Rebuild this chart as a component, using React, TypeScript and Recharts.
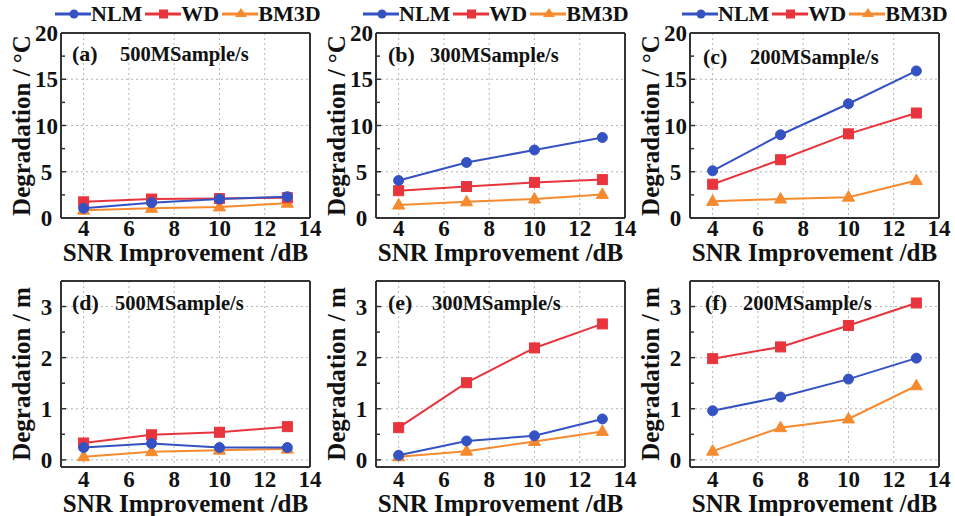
import React from 'react';
import { LineChart, Line, XAxis, YAxis, CartesianGrid, Legend } from 'recharts';

// ---------- data ----------
const snrImprovement = [4, 7, 10, 13];
const xTickLabels = [4, 6, 8, 10, 12, 14];
const xMajorInner = [4, 6, 8, 10, 12];
const xMinorInner = [5, 7, 9, 11, 13];

const tempTicks = [0, 5, 10, 15, 20];
const tempMajorInner = [5, 10, 15];
const tempMinorInner = [2.5, 7.5, 12.5, 17.5];
const distTicks = [0, 1, 2, 3];
const distMajorInner = [0, 1, 2, 3];
const distMinorInner = [0.5, 1.5, 2.5];

const tempNlm500 = [1.05, 1.65, 2.05, 2.3];
const tempWd500 = [1.75, 2.05, 2.1, 2.2];
const tempBm3d500 = [0.85, 1.05, 1.2, 1.6];
const tempNlm300 = [4.05, 6.0, 7.35, 8.7];
const tempWd300 = [2.95, 3.4, 3.85, 4.15];
const tempBm3d300 = [1.4, 1.75, 2.05, 2.55];
const tempNlm200 = [5.1, 9.0, 12.35, 15.9];
const tempWd200 = [3.65, 6.3, 9.1, 11.35];
const tempBm3d200 = [1.8, 2.05, 2.25, 4.05];

const distNlm500 = [0.24, 0.32, 0.24, 0.24];
const distWd500 = [0.33, 0.49, 0.54, 0.65];
const distBm3d500 = [0.06, 0.16, 0.19, 0.21];
const distNlm300 = [0.09, 0.37, 0.47, 0.8];
const distWd300 = [0.63, 1.51, 2.19, 2.66];
const distBm3d300 = [0.06, 0.17, 0.36, 0.555];
const distNlm200 = [0.96, 1.23, 1.58, 1.99];
const distWd200 = [1.98, 2.21, 2.63, 3.07];
const distBm3d200 = [0.17, 0.63, 0.8, 1.45];

const seriesNames = ['NLM', 'WD', 'BM3D'];
const panelTags = ['(a)', '(b)', '(c)', '(d)', '(e)', '(f)'];
const rateLabels = ['500MSample/s', '300MSample/s', '200MSample/s'];
const xTitle = 'SNR Improvement /dB';
const tempTitle = 'Degradation / °C';
const distTitle = 'Degradation / m';

// ---------- styles ----------
const FONT = "'Liberation Serif', 'Times New Roman', serif";
const BLUE = '#3552c2';
const RED = '#e8353d';
const ORANGE = '#f58a2f';
const FRAME = '#333333';
const GRID = '#b4b4b4';

const circleDot = (props: any) => {
  const { cx, cy, index } = props;
  if (cx == null || cy == null) return <g key={`c-${index}`} />;
  return <circle key={`c-${index}`} cx={cx} cy={cy} r={5} fill={BLUE} stroke={BLUE} strokeWidth={1} />;
};
const squareDot = (props: any) => {
  const { cx, cy, index } = props;
  if (cx == null || cy == null) return <g key={`s-${index}`} />;
  return <rect key={`s-${index}`} x={cx - 5} y={cy - 5} width={10} height={10} fill={RED} stroke={RED} strokeWidth={1} />;
};
const triangleDot = (props: any) => {
  const { cx, cy, index } = props;
  if (cx == null || cy == null) return <g key={`t-${index}`} />;
  const pts = `${cx},${cy - 6.5} ${cx + 6},${cy + 4} ${cx - 6},${cy + 4}`;
  return <polygon key={`t-${index}`} points={pts} fill={ORANGE} stroke={ORANGE} strokeWidth={1} />;
};

const EmptyTick = () => <g />;

const legendColors = [BLUE, RED, ORANGE];

const LegendMarker = ({ i }: { i: number }) => {
  const c = legendColors[i];
  if (i === 0) return <circle cx={19} cy={9} r={4.5} fill={c} />;
  if (i === 1) return <rect x={14} y={4.5} width={9} height={9} fill={c} />;
  return <polygon points="19,3 25,12 13,12" fill={c} />;
};

const LegendContent = () => (
  <div
    style={{
      display: 'flex',
      alignItems: 'center',
      fontFamily: FONT,
      fontWeight: 700,
      fontSize: 22,
      color: '#111',
      whiteSpace: 'nowrap',
    }}
  >
    {seriesNames.map((name, i) => (
      <div key={name} style={{ display: 'flex', alignItems: 'center', marginRight: 3 }}>
        <svg width={36} height={18} style={{ display: 'block' }}>
          <line x1={0} y1={9} x2={36} y2={9} stroke={legendColors[i]} strokeWidth={3} />
          <LegendMarker i={i} />
        </svg>
        <span style={{ lineHeight: '24px' }}>{name}</span>
      </div>
    ))}
  </div>
);

type PanelProps = {
  left: number;
  top: number;
  width: number;
  height: number;
  marginTop: number;
  marginRight: number;
  xAxisHeight: number;
  xTickMargin: number;
  xTitleOffset: number;
  yDomain: [number, number];
  yTicks: number[];
  yMajor: number[];
  yMinor: number[];
  yTitle: string;
  nlm: number[];
  wd: number[];
  bm3d: number[];
  legendLeft?: number;
};

const tickFont = { fill: '#111', fontSize: 23, fontWeight: 700, fontFamily: FONT };

function Panel(p: PanelProps) {
  const data = snrImprovement.map((x, i) => ({ snr: x, nlm: p.nlm[i], wd: p.wd[i], bm3d: p.bm3d[i] }));
  return (
    <div style={{ position: 'absolute', left: p.left, top: p.top }}>
      <LineChart
        width={p.width}
        height={p.height}
        data={data}
        margin={{ top: p.marginTop, right: p.marginRight, bottom: 0, left: 0 }}
      >
        <CartesianGrid xAxisId="x" yAxisId="y" stroke={GRID} strokeDasharray="2 3" strokeWidth={1} />
        <XAxis
          xAxisId="x"
          dataKey="snr"
          type="number"
          domain={[3, 14]}
          allowDataOverflow
          ticks={xTickLabels}
          interval={0}
          height={p.xAxisHeight}
          tickSize={0}
          tickMargin={p.xTickMargin}
          tickLine={false}
          axisLine={{ stroke: FRAME, strokeWidth: 2 }}
          tick={tickFont}
          label={{
            value: xTitle,
            position: 'insideBottom',
            offset: p.xTitleOffset,
            style: { fill: '#111', fontSize: 25, fontWeight: 700, fontFamily: FONT, textAnchor: 'middle' },
          }}
        />
        <XAxis
          xAxisId="xmaj"
          type="number"
          domain={[3, 14]}
          allowDataOverflow
          ticks={xMajorInner}
          interval={0}
          mirror
          height={1}
          tickSize={5}
          axisLine={false}
          tickLine={{ stroke: FRAME, strokeWidth: 1.5 }}
          tick={EmptyTick}
        />
        <XAxis
          xAxisId="xmin"
          type="number"
          domain={[3, 14]}
          allowDataOverflow
          ticks={xMinorInner}
          interval={0}
          mirror
          height={1}
          tickSize={3}
          axisLine={false}
          tickLine={{ stroke: FRAME, strokeWidth: 1.5 }}
          tick={EmptyTick}
        />
        <XAxis
          xAxisId="xtop"
          orientation="top"
          type="number"
          domain={[3, 14]}
          allowDataOverflow
          ticks={[3]}
          mirror
          height={1}
          tick={false}
          tickLine={false}
          axisLine={{ stroke: FRAME, strokeWidth: 2 }}
        />
        <YAxis
          yAxisId="y"
          type="number"
          domain={p.yDomain}
          allowDataOverflow
          ticks={p.yTicks}
          interval={0}
          width={61}
          tickSize={0}
          tickMargin={14.5}
          tickLine={false}
          axisLine={{ stroke: FRAME, strokeWidth: 2 }}
          tick={{ ...tickFont, textAnchor: 'middle' }}
          label={{
            value: p.yTitle,
            angle: -90,
            position: 'insideLeft',
            offset: 21,
            style: { fill: '#111', fontSize: 25, fontWeight: 700, fontFamily: FONT, textAnchor: 'middle' },
          }}
        />
        <YAxis
          yAxisId="ymaj"
          type="number"
          domain={p.yDomain}
          allowDataOverflow
          ticks={p.yMajor}
          interval={0}
          mirror
          width={1}
          tickSize={5}
          axisLine={false}
          tickLine={{ stroke: FRAME, strokeWidth: 1.5 }}
          tick={EmptyTick}
        />
        <YAxis
          yAxisId="ymin"
          type="number"
          domain={p.yDomain}
          allowDataOverflow
          ticks={p.yMinor}
          interval={0}
          mirror
          width={1}
          tickSize={3}
          axisLine={false}
          tickLine={{ stroke: FRAME, strokeWidth: 1.5 }}
          tick={EmptyTick}
        />
        <YAxis
          yAxisId="yright"
          orientation="right"
          type="number"
          domain={p.yDomain}
          allowDataOverflow
          ticks={[p.yDomain[0]]}
          mirror
          width={1}
          tick={false}
          tickLine={false}
          axisLine={{ stroke: FRAME, strokeWidth: 2 }}
        />
        {p.legendLeft != null && (
          <Legend
            layout="horizontal"
            verticalAlign="middle"
            align="center"
            wrapperStyle={{ top: 2, left: p.legendLeft, width: 300, height: 24 }}
            content={() => <LegendContent />}
          />
        )}
        <Line
          xAxisId="x"
          yAxisId="y"
          type="linear"
          dataKey="bm3d"
          name="BM3D"
          stroke={ORANGE}
          strokeWidth={2}
          dot={triangleDot}
          isAnimationActive={false}
        />
        <Line
          xAxisId="x"
          yAxisId="y"
          type="linear"
          dataKey="wd"
          name="WD"
          stroke={RED}
          strokeWidth={2}
          dot={squareDot}
          isAnimationActive={false}
        />
        <Line
          xAxisId="x"
          yAxisId="y"
          type="linear"
          dataKey="nlm"
          name="NLM"
          stroke={BLUE}
          strokeWidth={2}
          dot={circleDot}
          isAnimationActive={false}
        />
      </LineChart>
    </div>
  );
}

const Annot = ({ tag, rate, tagX, rateX, cy }: { tag: string; rate: string; tagX: number; rateX: number; cy: number }) => (
  <>
    <div
      style={{
        position: 'absolute',
        left: tagX,
        top: cy - 13,
        lineHeight: '26px',
        fontFamily: FONT,
        fontWeight: 700,
        fontSize: 22,
        color: '#111',
        whiteSpace: 'nowrap',
      }}
    >
      {tag}
    </div>
    <div
      style={{
        position: 'absolute',
        left: rateX,
        top: cy - 12,
        lineHeight: '24px',
        fontFamily: FONT,
        fontWeight: 700,
        fontSize: 20.5,
        color: '#111',
        whiteSpace: 'nowrap',
      }}
    >
      {rate}
    </div>
  </>
);

const colLefts = [0, 315, 629];
const colWidths = [335, 335, 326];
const colRights = [25, 25, 16];
const legendLefts = [55, 48, 53];

const topSeries = [
  [tempNlm500, tempWd500, tempBm3d500],
  [tempNlm300, tempWd300, tempBm3d300],
  [tempNlm200, tempWd200, tempBm3d200],
];
const bottomSeries = [
  [distNlm500, distWd500, distBm3d500],
  [distNlm300, distWd300, distBm3d300],
  [distNlm200, distWd200, distBm3d200],
];

const annotTop = [
  { tagX: 72, rateX: 120, cy: 54 },
  { tagX: 388, rateX: 430, cy: 55 },
  { tagX: 703, rateX: 750, cy: 57 },
];
const annotBottom = [
  { tagX: 72, rateX: 115, cy: 303 },
  { tagX: 388, rateX: 432, cy: 303 },
  { tagX: 705, rateX: 743, cy: 303 },
];

export default function App() {
  return (
    <div style={{ position: 'absolute', left: 0, top: 0, width: 955, height: 516, background: '#fff', overflow: 'hidden' }}>
      {colLefts.map((l, i) => (
        <Panel
          key={`t${i}`}
          left={l}
          top={0}
          width={colWidths[i]}
          height={274}
          marginTop={33}
          marginRight={colRights[i]}
          xAxisHeight={56}
          xTickMargin={2}
          xTitleOffset={13}
          yDomain={[0, 20]}
          yTicks={tempTicks}
          yMajor={tempMajorInner}
          yMinor={tempMinorInner}
          yTitle={tempTitle}
          nlm={topSeries[i][0]}
          wd={topSeries[i][1]}
          bm3d={topSeries[i][2]}
          legendLeft={legendLefts[i]}
        />
      ))}
      {colLefts.map((l, i) => (
        <Panel
          key={`b${i}`}
          left={l}
          top={260}
          width={colWidths[i]}
          height={256}
          marginTop={21}
          marginRight={colRights[i]}
          xAxisHeight={49}
          xTickMargin={4}
          xTitleOffset={4}
          yDomain={[-0.14, 3.5]}
          yTicks={distTicks}
          yMajor={distMajorInner}
          yMinor={distMinorInner}
          yTitle={distTitle}
          nlm={bottomSeries[i][0]}
          wd={bottomSeries[i][1]}
          bm3d={bottomSeries[i][2]}
        />
      ))}
      {annotTop.map((a, i) => (
        <Annot key={`at${i}`} tag={panelTags[i]} rate={rateLabels[i]} tagX={a.tagX} rateX={a.rateX} cy={a.cy} />
      ))}
      {annotBottom.map((a, i) => (
        <Annot key={`ab${i}`} tag={panelTags[i + 3]} rate={rateLabels[i]} tagX={a.tagX} rateX={a.rateX} cy={a.cy} />
      ))}
    </div>
  );
}
